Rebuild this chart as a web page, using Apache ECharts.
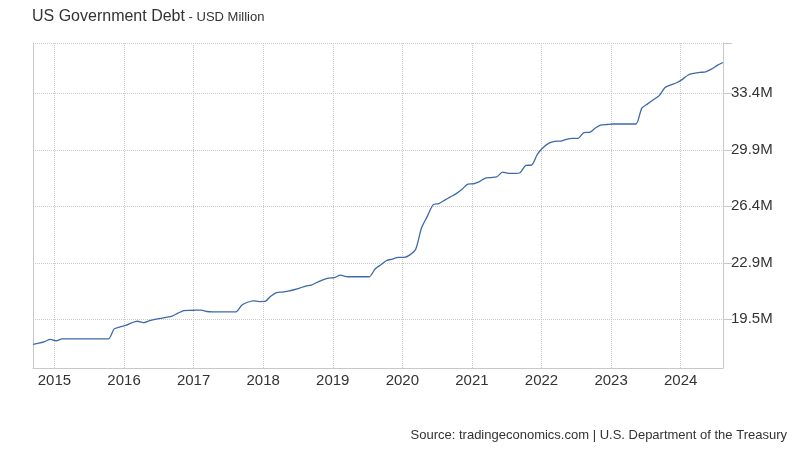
<!DOCTYPE html>
<html>
<head>
<meta charset="utf-8">
<script src="https://cdn.jsdelivr.net/npm/echarts@6/dist/echarts.min.js"></script>
<style>
  html, body { margin: 0; padding: 0; background: #ffffff; }
  #chart { width: 800px; height: 450px; }
</style>
</head>
<body>
<div id="chart"></div>
<script>
// Monthly observations, Sep 2014 .. Aug 2024 (values in trillions USD, i.e. "M" of USD Million)
const months = [
  '2014-09','2014-10','2014-11','2014-12',
  '2015-01','2015-02','2015-03','2015-04','2015-05','2015-06','2015-07','2015-08','2015-09','2015-10','2015-11','2015-12',
  '2016-01','2016-02','2016-03','2016-04','2016-05','2016-06','2016-07','2016-08','2016-09','2016-10','2016-11','2016-12',
  '2017-01','2017-02','2017-03','2017-04','2017-05','2017-06','2017-07','2017-08','2017-09','2017-10','2017-11','2017-12',
  '2018-01','2018-02','2018-03','2018-04','2018-05','2018-06','2018-07','2018-08','2018-09','2018-10','2018-11','2018-12',
  '2019-01','2019-02','2019-03','2019-04','2019-05','2019-06','2019-07','2019-08','2019-09','2019-10','2019-11','2019-12',
  '2020-01','2020-02','2020-03','2020-04','2020-05','2020-06','2020-07','2020-08','2020-09','2020-10','2020-11','2020-12',
  '2021-01','2021-02','2021-03','2021-04','2021-05','2021-06','2021-07','2021-08','2021-09','2021-10','2021-11','2021-12',
  '2022-01','2022-02','2022-03','2022-04','2022-05','2022-06','2022-07','2022-08','2022-09','2022-10','2022-11','2022-12',
  '2023-01','2023-02','2023-03','2023-04','2023-05','2023-06','2023-07','2023-08','2023-09','2023-10','2023-11','2023-12',
  '2024-01','2024-02','2024-03','2024-04','2024-05','2024-06','2024-07','2024-08'
];
const debt = [
  17.93, 18.00, 18.10, 18.23,
  18.15, 18.26, 18.26, 18.26, 18.26, 18.26, 18.26, 18.26, 18.26, 18.26, 18.88, 19.00,
  19.09, 19.25, 19.35, 19.26, 19.37, 19.47, 19.53, 19.59, 19.67, 19.85, 20.00, 20.02,
  20.03, 20.04, 19.95, 19.93, 19.93, 19.93, 19.93, 19.93, 20.34, 20.52, 20.61, 20.56,
  20.57, 20.89, 21.11, 21.15, 21.21, 21.29, 21.39, 21.52, 21.58, 21.75, 21.90, 22.01,
  22.03, 22.19, 22.10, 22.09, 22.09, 22.09, 22.09, 22.57, 22.83, 23.09, 23.18, 23.29,
  23.29, 23.44, 23.78, 25.09, 25.81, 26.52, 26.60, 26.81, 27.01, 27.21, 27.48, 27.80,
  27.82, 27.95, 28.17, 28.20, 28.25, 28.54, 28.46, 28.46, 28.50, 28.95, 28.97, 29.65,
  30.05, 30.32, 30.43, 30.45, 30.56, 30.62, 30.62, 30.97, 30.99, 31.25, 31.44, 31.47,
  31.50, 31.50, 31.50, 31.50, 31.50, 32.48, 32.74, 33.00, 33.25, 33.75, 33.91, 34.04,
  34.25, 34.52, 34.62, 34.68, 34.71, 34.88, 35.11, 35.29
];
const yearTicks = [2015, 2016, 2017, 2018, 2019, 2020, 2021, 2022, 2023, 2024];
const yTickValues = [19.47, 22.95, 26.43, 29.91, 33.39];
const yTickLabels = ['19.5M', '22.9M', '26.4M', '29.9M', '33.4M'];
const yMin = 16.47;
const yMax = 36.49;

// observation date within the month (day ~10) -> decimal year
function monthToYear(s) {
  const p = s.split('-');
  return Number(p[0]) + (Number(p[1]) - 1 + 9 / 30) / 12;
}
const points = months.map((m, i) => [monthToYear(m), debt[i]]);

const FONT = "'Liberation Sans', Arial, sans-serif";
const chart = echarts.init(document.getElementById('chart'), null, { renderer: 'canvas' });
chart.setOption({
  animation: false,
  backgroundColor: '#ffffff',
  textStyle: { fontFamily: FONT },
  title: [
    {
      text: '{a|US Government Debt}{b| - USD Million}',
      left: 27,
      top: 4,
      textStyle: {
        fontWeight: 'normal',
        rich: {
          a: { fontSize: 16, color: '#333333', fontWeight: 'normal', fontFamily: FONT },
          b: { fontSize: 13, color: '#333333', fontWeight: 'normal', fontFamily: FONT }
        }
      }
    },
    {
      text: 'Source: tradingeconomics.com | U.S. Department of the Treasury',
      right: 8,
      bottom: 3,
      textStyle: { fontSize: 13, fontWeight: 'normal', color: '#333333', fontFamily: FONT }
    }
  ],
  grid: { left: 33, right: 77, top: 43, bottom: 82, containLabel: false },
  xAxis: {
    type: 'value',
    min: 'dataMin',
    max: 'dataMax',
    axisLine: { show: true, lineStyle: { color: '#c8c8c8', width: 1 } },
    axisTick: { show: false, customValues: yearTicks },
    axisLabel: {
      customValues: yearTicks,
      formatter: v => String(Math.round(v)),
      fontSize: 15,
      color: '#333333',
      margin: 5,
      fontFamily: FONT
    },
    splitLine: { show: true, lineStyle: { color: '#cccccc', type: 'dotted', width: 1 } }
  },
  yAxis: [
    {
      type: 'value',
      position: 'right',
      min: yMin,
      max: yMax,
      axisLine: { show: true, lineStyle: { color: '#c8c8c8', width: 1 } },
      axisTick: { show: true, customValues: yTickValues.concat([yMax]), length: 9, lineStyle: { color: '#c8c8c8' } },
      axisLabel: {
        customValues: yTickValues,
        formatter: function (v) {
          let best = 0;
          for (let i = 1; i < yTickValues.length; i++) {
            if (Math.abs(yTickValues[i] - v) < Math.abs(yTickValues[best] - v)) best = i;
          }
          return yTickLabels[best];
        },
        fontSize: 15,
        color: '#333333',
        margin: 8,
        fontFamily: FONT
      },
      splitLine: { show: true, lineStyle: { color: '#cccccc', type: 'dotted', width: 1 } }
    },
    {
      type: 'value',
      position: 'left',
      min: yMin,
      max: yMax,
      axisLine: { show: true, lineStyle: { color: '#c8c8c8', width: 1 } },
      axisTick: { show: false },
      axisLabel: { show: false },
      splitLine: { show: false }
    }
  ],
  series: [
    {
      type: 'line',
      yAxisIndex: 0,
      data: points,
      showSymbol: false,
      smooth: 0.25,
      lineStyle: { color: '#3d6aa9', width: 1.3 },
      itemStyle: { color: '#3d6aa9' }
    }
  ]
});
</script>
</body>
</html>
